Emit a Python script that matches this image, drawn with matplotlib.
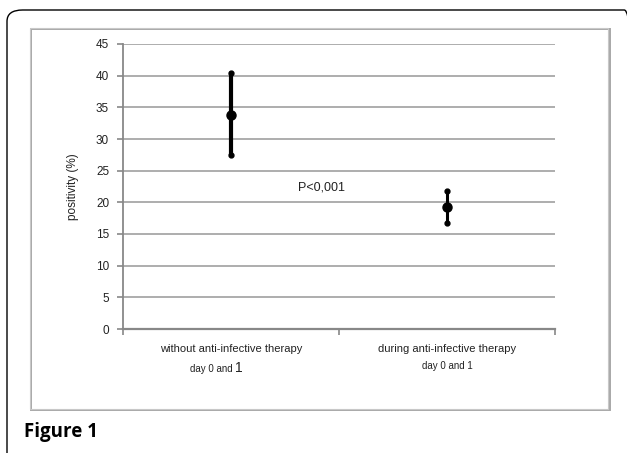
import matplotlib
matplotlib.use("Agg")
import matplotlib.pyplot as plt
from matplotlib.patches import FancyBboxPatch, Rectangle
from matplotlib.transforms import blended_transform_factory

categories = ["without anti-infective therapy", "during anti-infective therapy"]
sublabels = ["day 0 and ", "day 0 and 1"]
means = [33.8, 19.3]
lows = [27.5, 16.8]
highs = [40.5, 21.8]
yticks = [0, 5, 10, 15, 20, 25, 30, 35, 40, 45]
ptext = "P<0,001"

W, H = 627, 453
fig = plt.figure(figsize=(W / 100, H / 100), dpi=100)
fig.patch.set_facecolor("white")

def fx(px):
    return px / W

def fy(py):
    return 1 - py / H

# outer rounded border
outer = FancyBboxPatch((fx(7), fy(470)), fx(640) - fx(7), fy(10) - fy(470),
                       boxstyle="round,pad=0,rounding_size=0.025",
                       transform=fig.transFigure, fill=False, edgecolor="black",
                       linewidth=1.0, clip_on=False)
fig.patches.append(outer)

# inner chart frame (with slight shadow)
shadow = Rectangle((fx(31), fy(410)), fx(610) - fx(31), fy(29) - fy(410),
                   transform=fig.transFigure, fill=False, edgecolor="#a8a8a8",
                   linewidth=1.4)
fig.patches.append(shadow)
inner = Rectangle((fx(30), fy(409)), fx(608) - fx(30), fy(28) - fy(409),
                  transform=fig.transFigure, fill=False, edgecolor="#c8c8c8",
                  linewidth=0.8)
fig.patches.append(inner)

ax = fig.add_axes([fx(123), fy(329), fx(555) - fx(123), fy(44) - fy(329)])
ax.set_facecolor("none")
ax.set_xlim(0, 2)
ax.set_ylim(0, 45)
ax.set_yticks(yticks)
ax.set_yticklabels([str(t) for t in yticks], fontsize=8.5, color="#222222",
                   family="Liberation Sans")
ax.yaxis.grid(True, color="#a0a0a0", linewidth=1.2)
ax.set_axisbelow(True)
ax.set_xticks([0, 1, 2])
ax.set_xticklabels([])
ax.tick_params(axis="x", length=4, color="#888888", width=1.2, direction="out")
ax.tick_params(axis="y", length=4, color="#888888", width=1.2, direction="out", pad=6)
for side in ["top", "right"]:
    ax.spines[side].set_visible(False)
ax.spines["left"].set_color("#888888")
ax.spines["left"].set_linewidth(1.3)
ax.spines["bottom"].set_color("#888888")
ax.spines["bottom"].set_linewidth(1.6)

xs = [0.5, 1.5]
widths = [3, 2.2]
for x, m, lo, hi, lw in zip(xs, means, lows, highs, widths):
    ax.plot([x, x], [lo, hi], color="black", linewidth=lw, solid_capstyle="round", zorder=3)
    ax.plot([x, x], [lo, hi], linestyle="none", marker="o", markersize=3.5,
            color="black", zorder=4)
    ax.plot([x], [m], marker="o", markersize=6.5, color="black", zorder=5)

ax.text(0.81, 22.4, ptext, fontsize=9, color="#222222", family="Liberation Sans",
        va="center", ha="left")

ax.set_ylabel("positivity (%)", fontsize=8.5, color="#222222", family="Liberation Sans",
              labelpad=12)

tr = blended_transform_factory(ax.transData, fig.transFigure)
for i, (x, c) in enumerate(zip(xs, categories)):
    ax.text(x, fy(349), c, transform=tr, ha="center", va="center", fontsize=8,
            color="#222222", family="Liberation Sans")
ax.text(xs[0] + 0.02, fy(369), sublabels[0], transform=tr, ha="right", va="center",
        fontsize=7, color="#222222", family="Liberation Sans")
ax.text(xs[0] + 0.02, fy(368), "1", transform=tr, ha="left", va="center",
        fontsize=10, color="#222222", family="Liberation Sans")
ax.text(xs[1], fy(366), sublabels[1], transform=tr, ha="center", va="center",
        fontsize=7, color="#222222", family="Liberation Sans")

fig.text(fx(24), fy(432), "Figure 1", fontsize=13.5, fontweight="bold",
         family="Open Sans", ha="left", va="center", color="black")

fig.savefig("out.png", dpi=100)
